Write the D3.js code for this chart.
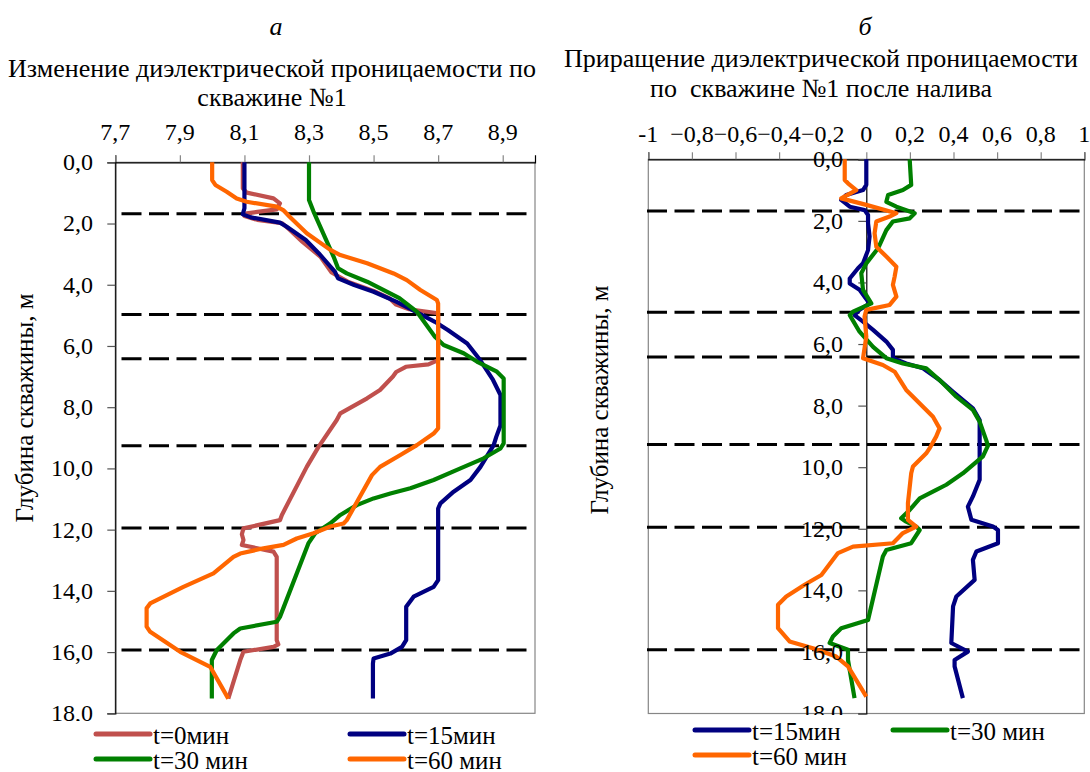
<!DOCTYPE html>
<html>
<head>
<meta charset="utf-8">
<script src="https://cdn.jsdelivr.net/npm/d3@7"></script>
</head>
<body style="margin:0">
<svg id="wellProfiles" width="1090" height="772"></svg>
<script>
// ---- data: depth (m) / value pairs ----
const depthTicks = [0, 2, 4, 6, 8, 10, 12, 14, 16, 18];
const epsTicks = [7.7, 7.9, 8.1, 8.3, 8.5, 8.7, 8.9];
const deltaTicks = [-1, -0.8, -0.6, -0.4, -0.2, 0, 0.2, 0.4, 0.6, 0.8, 1];
const layerBounds = [1.68, 4.97, 6.42, 9.26, 11.95, 15.93];

// permittivity, well #1
const epsT0 = [[0,8.095],[0.85,8.095],[0.99,8.107],[1.18,8.19],[1.34,8.21],[1.54,8.20],[1.62,8.14],[1.67,8.107],[1.75,8.10],[1.88,8.14],[1.99,8.216],[2.2,8.24],[2.6,8.28],[3.08,8.335],[3.6,8.37],[3.9,8.42],[4.2,8.50],[4.45,8.55],[4.65,8.57],[4.8,8.61],[4.93,8.70],[6.46,8.70],[6.6,8.67],[6.68,8.60],[6.85,8.57],[7.0,8.56],[7.44,8.52],[7.71,8.48],[8.2,8.397],[8.42,8.386],[9.29,8.33],[9.95,8.293],[11.52,8.216],[11.69,8.21],[11.96,8.097],[12.15,8.092],[12.34,8.097],[12.5,8.092],[12.72,8.19],[12.89,8.20],[15.61,8.20],[15.75,8.205],[15.83,8.19],[15.99,8.097],[16.26,8.087],[17.52,8.05]];
const epsT15 = [[0,8.10],[1.5,8.10],[1.7,8.095],[1.8,8.12],[1.97,8.21],[2.1,8.23],[2.54,8.29],[2.97,8.33],[3.57,8.38],[3.79,8.39],[4.01,8.44],[4.23,8.50],[4.55,8.57],[4.88,8.63],[5.21,8.69],[5.48,8.73],[5.92,8.79],[6.46,8.83],[7.11,8.87],[7.6,8.893],[8.6,8.893],[8.97,8.88],[9.24,8.872],[9.95,8.831],[10.38,8.80],[10.76,8.748],[11.14,8.707],[11.31,8.70],[13.65,8.70],[13.87,8.686],[14.19,8.624],[14.52,8.601],[15.61,8.601],[15.83,8.588],[16.05,8.552],[16.21,8.50],[16.37,8.498],[17.52,8.498]];
const epsT30 = [[0,8.30],[1.23,8.30],[1.61,8.314],[3.08,8.376],[3.46,8.39],[3.63,8.417],[3.9,8.48],[4.17,8.53],[4.44,8.58],[4.88,8.634],[5.7,8.69],[5.97,8.717],[6.24,8.779],[6.51,8.82],[6.84,8.882],[7.06,8.903],[9.18,8.903],[9.35,8.893],[9.67,8.841],[10.0,8.769],[10.38,8.686],[10.65,8.614],[10.82,8.552],[10.98,8.50],[11.2,8.448],[11.52,8.397],[11.8,8.365],[12.12,8.319],[12.45,8.298],[14.85,8.21],[15.01,8.20],[15.23,8.087],[15.39,8.066],[15.94,8.014],[16.26,7.999],[17.52,7.999]];
const epsT60 = [[0,8.0],[0.58,8.0],[0.74,8.01],[0.96,8.045],[1.18,8.076],[1.29,8.107],[1.45,8.2],[1.56,8.22],[1.78,8.24],[2.32,8.293],[2.86,8.366],[3.03,8.397],[3.3,8.48],[3.63,8.562],[3.85,8.603],[4.17,8.645],[4.5,8.696],[4.61,8.70],[8.69,8.70],[8.86,8.686],[9.24,8.634],[9.56,8.583],[9.95,8.52],[10.22,8.495],[11.69,8.417],[11.8,8.407],[11.9,8.366],[12.12,8.314],[12.29,8.262],[12.5,8.221],[12.61,8.159],[12.78,8.087],[12.89,8.066],[13.43,8.004],[13.87,7.911],[14.41,7.808],[14.57,7.797],[15.17,7.797],[15.34,7.808],[15.99,7.901],[16.48,7.994],[17.52,8.05]];

// permittivity increment after filling, well #1
const dT15 = [[0,0],[0.83,0],[1.0,-0.015],[1.16,-0.092],[1.32,-0.115],[1.54,-0.076],[1.65,-0.008],[1.81,0.008],[2.08,0.008],[2.51,0.015],[2.95,0.008],[3.38,-0.015],[3.54,-0.038],[3.87,-0.076],[4.03,-0.076],[4.24,-0.031],[4.68,0.015],[4.89,-0.031],[5.06,-0.054],[5.27,-0.015],[5.54,0.031],[5.92,0.092],[6.19,0.122],[6.46,0.122],[6.63,0.183],[6.79,0.26],[7.17,0.336],[7.55,0.398],[8.09,0.489],[8.47,0.52],[10.41,0.52],[10.95,0.489],[11.28,0.466],[11.71,0.482],[11.93,0.581],[12.04,0.604],[12.47,0.604],[12.74,0.505],[13.01,0.489],[13.66,0.497],[14.2,0.413],[14.52,0.398],[15.71,0.39],[15.99,0.466],[16.26,0.405],[16.47,0.405],[17.5,0.443]];
const dT30 = [[0,0.199],[0.83,0.206],[1.0,0.168],[1.16,0.1],[1.38,0.092],[1.54,0.138],[1.75,0.222],[1.92,0.199],[2.02,0.122],[2.3,0.092],[2.89,0.054],[3.38,0],[3.7,-0.023],[4.24,-0.015],[4.68,0.023],[4.95,-0.061],[5.06,-0.076],[5.6,-0.031],[6.09,0.031],[6.46,0.092],[6.63,0.168],[6.79,0.275],[7.17,0.336],[7.71,0.413],[8.14,0.489],[8.52,0.52],[9.12,0.55],[9.3,0.558],[9.65,0.535],[10.2,0.443],[10.57,0.367],[10.74,0.321],[11.01,0.245],[11.39,0.199],[11.66,0.16],[11.77,0.183],[11.93,0.229],[12.04,0.245],[12.47,0.206],[12.69,0.092],[12.9,0.076],[14.96,0.008],[15.23,-0.115],[15.5,-0.153],[15.71,-0.168],[15.93,-0.084],[16.26,-0.084],[17.5,-0.054]];
const dT60 = [[0,-0.099],[0.67,-0.099],[0.78,-0.084],[1.0,-0.046],[1.27,-0.115],[1.48,0],[1.75,0.138],[1.86,0.107],[2.02,0.046],[2.4,0.038],[2.84,0.046],[3.16,0.092],[3.49,0.138],[3.81,0.13],[4.08,0.122],[4.46,0.138],[4.73,0.107],[4.89,0],[5.11,-0.008],[5.76,0],[6.46,-0.015],[6.68,0.076],[6.9,0.13],[7.49,0.183],[8.36,0.306],[8.74,0.336],[9.0,0.321],[9.39,0.29],[9.55,0.275],[9.98,0.214],[10.2,0.206],[11.17,0.191],[11.71,0.191],[11.93,0.229],[12.14,0.168],[12.47,0.122],[12.58,-0.061],[12.79,-0.13],[13.5,-0.206],[13.82,-0.283],[14.2,-0.367],[14.47,-0.405],[15.23,-0.405],[15.66,-0.352],[15.88,-0.245],[16.15,-0.138],[16.47,-0.084],[17.45,0]];

const COLORS = { t0: "#C0504D", t15: "#000080", t30: "#008000", t60: "#FF6600" };
const TICK_FONT = 24;
const TEXT_FONT = 25;
const TITLE_FONT = 26;
const comma = f => v => f(v).replace(".", ",");

const svg = d3.select("#wellProfiles");
const defs = svg.append("defs");

// every label sits directly on the root svg, set in a Times-like serif
function label(size, clip) {
  const t = svg.append("text")
    .attr("font-size", size)
    .style("font-family", "Liberation Serif");
  if (clip) t.attr("clip-path", `url(#${clip})`);
  return t;
}

function panel(cfg) {
  const x = d3.scaleLinear().domain(cfg.xDomain).range([cfg.left, cfg.right]);
  const y = d3.scaleLinear().domain([0, 18]).range([cfg.top, cfg.bottom]);
  const g = svg.append("g");

  // plot-area frame
  g.append("rect").attr("x", cfg.left).attr("y", cfg.top)
    .attr("width", cfg.right - cfg.left).attr("height", cfg.bottom - cfg.top)
    .attr("fill", "none").attr("stroke", "#868686").attr("stroke-width", 1.2);

  // top value axis: ticks from d3
  const xAxis = d3.axisTop(x).tickValues(cfg.xTicks).tickSize(7).tickFormat("");
  const gx = g.append("g").attr("transform", `translate(0,${cfg.top})`).call(xAxis);
  gx.select(".domain").attr("stroke", "#000").attr("stroke-width", 1.2);
  gx.selectAll(".tick line").attr("stroke", "#868686").attr("stroke-width", 1.2);

  // depth axis
  const yAxis = d3.axisLeft(y).tickValues(depthTicks).tickSize(8).tickFormat("");
  const gy = g.append("g").attr("transform", `translate(${x(cfg.yAxisAt)},0)`).call(yAxis);
  gy.select(".domain").attr("stroke", "#000").attr("stroke-width", 1.2);
  gy.selectAll(".tick line").attr("stroke", "#555").attr("stroke-width", 1.2);

  // layer boundaries
  g.selectAll(".bound").data(layerBounds).join("line")
    .attr("x1", cfg.dashX[0]).attr("x2", cfg.dashX[1])
    .attr("y1", d => y(d)).attr("y2", d => y(d))
    .attr("stroke", "#000").attr("stroke-width", 3).attr("stroke-dasharray", "20 7.5");

  // profiles
  const line = d3.line().x(d => x(d[1])).y(d => y(d[0])).curve(d3.curveLinear);
  cfg.series.forEach(s => {
    g.append("path").datum(s.data).attr("d", line).attr("fill", "none")
      .attr("stroke", s.color).attr("stroke-width", 4.2)
      .attr("stroke-linejoin", "round").attr("stroke-linecap", "butt");
  });

  // legend swatches
  cfg.legend.forEach(it => {
    g.append("line").attr("x1", it.x).attr("x2", it.x + 54).attr("y1", it.y).attr("y2", it.y)
      .attr("stroke", it.color).attr("stroke-width", 5).attr("stroke-linecap", "round");
  });

  // ---- text ----
  label(TITLE_FONT).attr("x", cfg.letterX).attr("y", 35).attr("text-anchor", "middle")
    .style("font-style", "italic").text(cfg.letter);
  cfg.title.forEach((t, i) => {
    label(TITLE_FONT).attr("x", cfg.titleX).attr("y", cfg.titleY[i])
      .attr("text-anchor", "middle").style("white-space", "pre").text(t);
  });

  cfg.xTicks.forEach(v => {
    label(TICK_FONT).attr("x", x(v)).attr("y", cfg.xLabelY).attr("text-anchor", "middle")
      .text(cfg.xFormat(v));
  });

  // depth labels are trimmed at the chart's lower edge
  const clipId = "clip-" + cfg.id;
  defs.append("clipPath").attr("id", clipId).attr("clipPathUnits", "userSpaceOnUse")
    .append("rect").attr("x", 0).attr("y", 0).attr("width", 1090).attr("height", cfg.labelClip);
  const depthFmt = comma(d3.format(".1f"));
  depthTicks.forEach(d => {
    label(TICK_FONT, clipId).attr("x", cfg.yLabelX).attr("y", y(d)).attr("dy", "0.33em")
      .attr("text-anchor", "end").text(depthFmt(d));
  });

  label(TEXT_FONT).attr("transform", `translate(${cfg.yTitleX},${cfg.yTitleY}) rotate(-90)`)
    .attr("text-anchor", "middle").attr("dy", "0.35em").text("Глубина скважины, м");

  cfg.legend.forEach(it => {
    label(TEXT_FONT).attr("x", it.x + 57).attr("y", it.y + 10).text(it.label);
  });
}

panel({
  id: "a", letter: "а", letterX: 276,
  title: ["Изменение диэлектрической проницаемости по", "скважине №1"],
  titleX: 272, titleY: [77, 106],
  left: 115.3, right: 535, top: 162.3, bottom: 713.3,
  xDomain: [7.7, 9.0], xTicks: epsTicks, xFormat: comma(d3.format(".1f")), xLabelY: 140,
  yAxisAt: 7.7, yLabelX: 93, labelClip: 721,
  yTitleX: 24, yTitleY: 408,
  dashX: [121.5, 529],
  series: [
    { data: epsT0, color: COLORS.t0 },
    { data: epsT15, color: COLORS.t15 },
    { data: epsT30, color: COLORS.t30 },
    { data: epsT60, color: COLORS.t60 }
  ],
  legend: [
    { x: 96, y: 734, color: COLORS.t0, label: "t=0мин" },
    { x: 350, y: 734, color: COLORS.t15, label: "t=15мин" },
    { x: 96, y: 759, color: COLORS.t30, label: "t=30 мин" },
    { x: 350, y: 759, color: COLORS.t60, label: "t=60 мин" }
  ]
});

panel({
  id: "b", letter: "б", letterX: 865,
  title: ["Приращение диэлектрической проницаемости", "по  скважине №1 после налива"],
  titleX: 821, titleY: [67, 97],
  left: 648.3, right: 1084.3, top: 159.3, bottom: 713.5,
  xDomain: [-1, 1], xTicks: deltaTicks,
  xFormat: v => (v === 0 ? "0" : Math.abs(v) === 1 ? String(v) : comma(d3.format(".1f"))(v)),
  xLabelY: 142,
  yAxisAt: 0, yLabelX: 843, labelClip: 715,
  yTitleX: 599, yTitleY: 400,
  dashX: [647, 1083],
  series: [
    { data: dT15, color: COLORS.t15 },
    { data: dT30, color: COLORS.t30 },
    { data: dT60, color: COLORS.t60 }
  ],
  legend: [
    { x: 695, y: 730, color: COLORS.t15, label: "t=15мин" },
    { x: 893, y: 730, color: COLORS.t30, label: "t=30 мин" },
    { x: 695, y: 755, color: COLORS.t60, label: "t=60 мин" }
  ]
});
</script>
</body>
</html>
